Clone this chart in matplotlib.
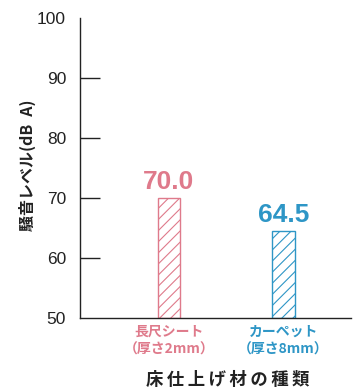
import matplotlib
matplotlib.use("Agg")
import matplotlib.pyplot as plt
from matplotlib.ticker import FixedLocator

plt.rcParams['font.family'] = ['Noto Sans CJK JP', 'DejaVu Sans']
plt.rcParams['hatch.linewidth'] = 0.8

categories = ["長尺シート\n（厚さ2mm）", "カーペット\n（厚さ8mm）"]
values = [70.0, 64.5]
value_labels = ["70.0", "64.5"]
colors = ["#DF7A8B", "#2E96C6"]
yticks = [50, 60, 70, 80, 90, 100]
inner_ticks = [60, 70, 80, 90]
ylabel = "騒音レベル(dB\u2002A)"
xlabel = "床仕上げ材の種類"

fig = plt.figure(figsize=(3.58, 3.92), dpi=100)
ax = fig.add_axes([80/358, 74/392, 271/358, 300/392])

x = list(range(len(categories)))
for xi, v, c, lab in zip(x, values, colors, value_labels):
    ax.bar(xi, v - 50, bottom=50, width=0.2, facecolor="white",
           edgecolor=c, hatch="///", linewidth=1.0)
    ax.text(xi, v + 0.6, lab, ha="center", va="bottom", color=c,
            fontsize=19, fontweight="bold", family=["Liberation Sans", "DejaVu Sans"])

ax.set_xlim(-0.777, 1.590)
ax.set_ylim(50, 100)

ax.set_yticks(yticks)
ax.set_yticklabels([str(t) for t in yticks], fontsize=12.5, color="#222222",
                   family=["Liberation Sans", "DejaVu Sans"])
ax.tick_params(axis="y", which="major", length=0, pad=10)
ax.yaxis.remove_overlapping_locs = False
ax.yaxis.set_minor_locator(FixedLocator(inner_ticks))
ax.tick_params(axis="y", which="minor", direction="in", length=14.4, width=1.0, color="#222222")

ax.set_xticks(x)
ax.set_xticklabels(categories, fontsize=10, fontweight="bold", linespacing=1.35)
for t, c in zip(ax.get_xticklabels(), colors):
    t.set_color(c)
ax.tick_params(axis="x", length=0, pad=5)

for s in ["top", "right"]:
    ax.spines[s].set_visible(False)
for s in ["left", "bottom"]:
    ax.spines[s].set_linewidth(1.0)
    ax.spines[s].set_color("#222222")

fig.text(27/358, 1 - 165/392, ylabel, rotation=90, ha="center", va="center",
         fontsize=11.5, fontweight="bold", color="#222222")
fig.text(228/358, 1 - 380/392, "\u2009".join(xlabel), ha="center", va="center",
         fontsize=12.5, fontweight="bold", color="#222222")

fig.savefig("out.png", dpi=100)
